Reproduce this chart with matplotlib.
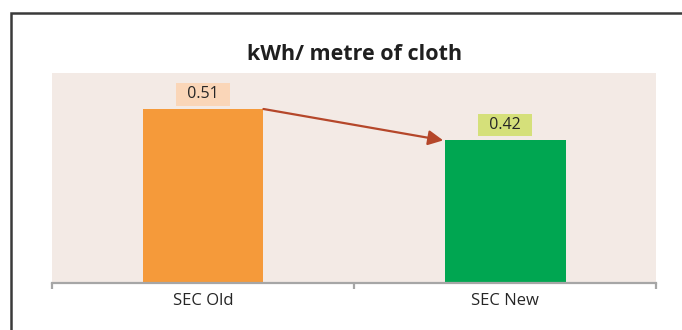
import matplotlib.pyplot as plt
from matplotlib.patches import Rectangle

plt.rcParams['font.family'] = ['Open Sans', 'DejaVu Sans']

categories = ['SEC Old', 'SEC New']
values = [0.51, 0.42]
value_labels = ['0.51', '0.42']
bar_colors = ['#F59A3A', '#00A651']
label_box_colors = ['#FAD6B8', '#D5E07A']

fig = plt.figure(figsize=(6.82, 3.30), dpi=100)
ax = fig.add_axes([0.0762, 0.1424, 0.886, 0.6364])
ax.set_facecolor('#F3EAE5')

x = list(range(len(categories)))
bar_w = 0.4
ax.bar(x, values, width=bar_w, color=bar_colors, zorder=2)

# value labels sitting in coloured boxes above each bar
for xi, v, txt, bc in zip(x, values, value_labels, label_box_colors):
    ax.annotate('  ' + txt + '  ', (xi, v), xytext=(0, 10.5), textcoords='offset points',
                ha='center', va='center', fontsize=11.5, color='#262626',
                bbox=dict(boxstyle='square,pad=0.2', fc=bc, ec='none'))

# arrow from old bar top to new bar top
ax.annotate('', xy=(x[1] - bar_w / 2 - 0.005, values[1] - 0.002),
            xytext=(x[0] + bar_w / 2, values[0]),
            arrowprops=dict(arrowstyle='-|>,head_length=0.9,head_width=0.45',
                            color='#B5472A', lw=1.6, shrinkA=0, shrinkB=0),
            zorder=3)

ax.set_xlim(-0.5, len(categories) - 0.5)
ax.set_ylim(0, 0.6155)
ax.set_yticks([])
for side in ['top', 'left', 'right']:
    ax.spines[side].set_visible(False)
ax.spines['bottom'].set_color('#A6A6A6')
ax.spines['bottom'].set_linewidth(1.6)

ax.set_xticks([-0.5, 0.5, 1.5])
ax.set_xticklabels([])
ax.tick_params(axis='x', which='major', length=4, width=1.6, color='#A6A6A6', direction='out')
ax.set_xticks(x, minor=True)
ax.set_xticklabels(categories, minor=True, fontsize=12, color='#262626')
ax.tick_params(axis='x', which='minor', length=0, pad=7)

fig.text(0.52, 1 - 60 / 330, 'kWh/ metre of cloth', ha='center', va='baseline',
         fontsize=15.5, fontweight='bold', color='#1F1F1F')

# chart frame
fig.patches.append(Rectangle((11 / 682, -0.1), 1.2, 1 - 13 / 330 + 0.1,
                             transform=fig.transFigure, fill=False,
                             ec='#3A3A3A', lw=1.8, clip_on=False))

fig.savefig('out.png', dpi=100)
